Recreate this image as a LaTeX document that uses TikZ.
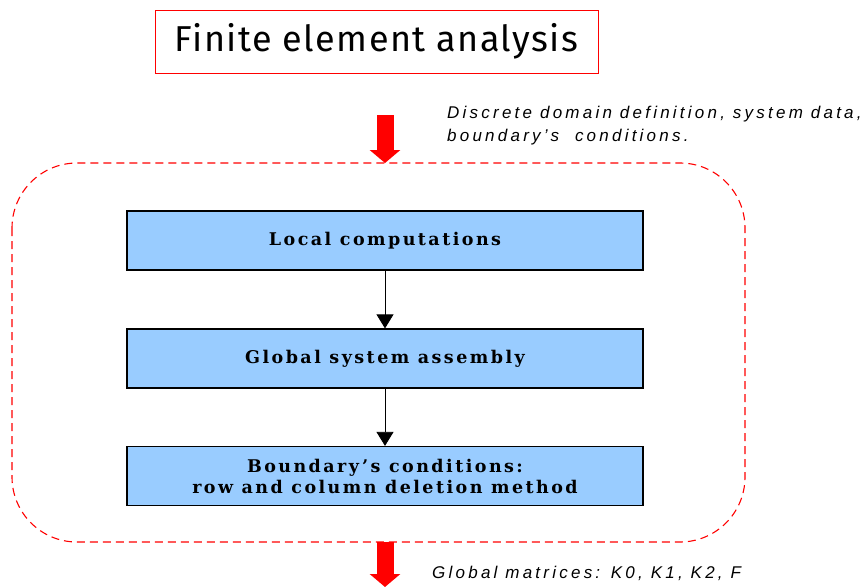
\documentclass[tikz,border=0pt]{standalone}
\usepackage{fontspec}
\usetikzlibrary{arrows.meta}
\newfontfamily\titlefont[LetterSpace=4]{Fira Sans}
\newfontfamily\notefont[LetterSpace=19]{Liberation Sans}
\newfontfamily\stepfont[LetterSpace=14]{DejaVu Serif}
\definecolor{stepblue}{RGB}{153,204,255}
\begin{document}
\begin{tikzpicture}[x=1pt,y=-1pt,
  stepbox/.style={draw=black,line width=1.2pt,fill=stepblue,minimum width=516pt,
    minimum height=59pt,inner sep=0pt,align=center,
    font=\stepfont\bfseries\fontsize{17.5}{21}\selectfont},
  flow/.style={draw=black,line width=0.8pt,-{Triangle[length=14pt,width=17pt]}},
  bigarrow/.style={draw=red,line width=17pt,-{Triangle[length=13pt,width=30pt]}},
  note/.style={anchor=north west,inner sep=0pt,align=left,
    font=\notefont\itshape\fontsize{17}{23}\selectfont}]
\useasboundingbox (0,0) rectangle (868,587);

% title
\node[draw=red,line width=1pt,minimum width=443pt,minimum height=63pt,
  font=\titlefont\fontsize{36}{40}\selectfont] (title) at (376.5,41.5) {Finite element analysis};

% dashed frame
\draw[red,dashed,line width=1.1pt,dash pattern=on 8pt off 5pt,rounded corners=65pt]
  (12,163) rectangle (745,542);

% processing steps
\node[stepbox] (local) at (385,240.5) {Local computations};
\node[stepbox] (global) at (385,358.5) {Global system assembly};
\node[stepbox] (bc) at (385,476) {Boundary’s conditions:\\row and column deletion method};

\draw[flow] (local.south) -- (global.north);
\draw[flow] (global.south) -- (bc.north);

% input and output
\coordinate (intop) at (385,115);
\coordinate (inend) at (385,163);
\coordinate (outtop) at (385,542);
\coordinate (outend) at (385,587);
\draw[bigarrow] (intop) -- (inend);
\draw[bigarrow] (outtop) -- (outend);

\node[note] (innote) at (447,106) {Discrete domain definition, system data,\\boundary’s\ \ conditions.};
\node[note] (outnote) at (432,566) {Global matrices: K0, K1, K2, F};
\end{tikzpicture}
\end{document}
